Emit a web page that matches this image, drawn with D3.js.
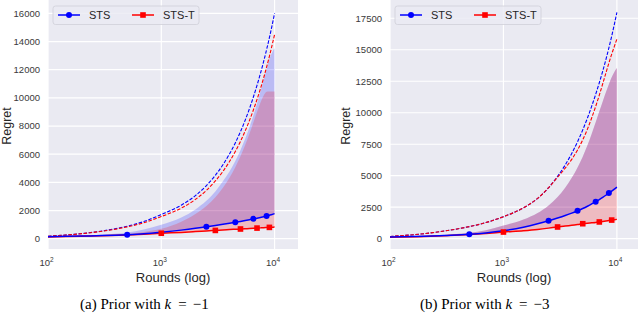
<!DOCTYPE html>
<html>
<head>
<meta charset="utf-8">
<script src="https://cdn.jsdelivr.net/npm/d3@7"></script>
<style>
    body { margin: 0; background: #ffffff; }
    svg { display: block; }
    .tick-label { font-family: "Liberation Sans", Arial, sans-serif; font-size: 9.5px; fill: #3a3a3a; }
    .axis-label { font-family: "Liberation Sans", Arial, sans-serif; font-size: 13px; fill: #262626; }
    .legend-text { font-family: "Liberation Sans", Arial, sans-serif; font-size: 11px; fill: #262626; }
    .caption { font-family: "Liberation Serif", "Times New Roman", serif; font-size: 15px; fill: #000; }
</style>
</head>
<body>
<svg width="640" height="321"></svg>
<script>
const rounds = [100, 200, 300, 500, 700, 1000, 1500, 2000, 2500, 3000, 3500, 4000,
    4500, 5000, 5500, 6000, 6500, 7000, 7500, 8000, 8500, 9000, 9500, 10000];

const xTicks = [100, 1000, 10000];
const stsMarks = [500, 2500, 4500, 6500, 8500];
const stsTMarks = [1000, 3000, 5000, 7000, 9000];

// (a) k = -1
const yTicksA = [0, 2000, 4000, 6000, 8000, 10000, 12000, 14000, 16000];
const stsMeanA = [140, 190, 220, 285, 350, 460, 610, 740, 855, 945, 1025, 1100,
    1170, 1230, 1290, 1350, 1410, 1460, 1510, 1560, 1620, 1670, 1720, 1780];
const stsTMeanA = [130, 180, 210, 270, 320, 390, 450, 505, 550, 590, 620, 650,
    672, 690, 708, 725, 740, 755, 770, 785, 795, 805, 815, 825];
const stsUpperA = [150, 210, 280, 440, 650, 990, 1510, 2080, 2690, 3350, 4080, 4780,
    5520, 6290, 7090, 7910, 8750, 9600, 10450, 11280, 12060, 12760, 13230, 13520];
const stsTUpperA = [140, 190, 235, 330, 470, 700, 1200, 1750, 2330, 2950, 3620, 4330,
    5080, 5850, 6650, 7450, 8250, 9000, 9650, 10150, 10430, 10450, 10450, 10450];
const stsBoundA = [180, 370, 550, 890, 1220, 1720, 2380, 3060, 3770, 4500, 5250, 6020,
    6800, 7600, 8410, 9230, 10060, 10890, 11730, 12570, 13420, 14270, 15130, 16000];
const stsTBoundA = [176, 360, 530, 840, 1135, 1575, 2170, 2790, 3430, 4100, 4780, 5480,
    6190, 6910, 7650, 8390, 9140, 9890, 10650, 11410, 12180, 12950, 13730, 14500];

// (b) k = -3
const yTicksB = [0, 2500, 5000, 7500, 10000, 12500, 15000, 17500];
const stsMeanB = [130, 200, 260, 350, 460, 630, 910, 1180, 1420, 1640, 1840, 2030,
    2220, 2400, 2580, 2760, 2940, 3110, 3280, 3450, 3620, 3780, 3940, 4100];
const stsTMeanB = [120, 180, 240, 340, 420, 530, 640, 740, 840, 930, 1000, 1070,
    1130, 1190, 1230, 1260, 1290, 1330, 1370, 1410, 1445, 1480, 1510, 1535];
const stsUpperB = [140, 220, 300, 470, 680, 1040, 1520, 2040, 2640, 3310, 4050, 4830,
    5650, 6510, 7410, 8330, 9240, 10110, 10900, 11620, 12270, 12820, 13240, 13550];
const stsTUpperB = [140, 220, 300, 470, 680, 1040, 1520, 2040, 2640, 3310, 4050, 4830,
    5650, 6510, 7410, 8330, 9240, 10110, 10900, 11620, 12270, 12820, 13240, 13550];
const stsBoundB = [180, 400, 610, 960, 1280, 1750, 2450, 3200, 4050, 4950, 5850, 6770,
    7700, 8640, 9580, 10520, 11460, 12380, 13300, 14220, 15150, 16080, 17020, 17960];
const stsTBoundB = [180, 400, 610, 960, 1280, 1750, 2450, 3200, 4050, 4880, 5600, 6300,
    7050, 7850, 8700, 9600, 10500, 11400, 12300, 13150, 13950, 14650, 15270, 15850];

let svg = d3.select("svg");

function drawPanel(p) {
    let x = d3.scaleLog().domain(p.xDomain).range([p.left, p.right]);
    let y = d3.scaleLinear().domain(p.yDomain).range([p.bottom, p.top]);

    let g = svg.append("g");

    g.append("rect")
        .attr("x", p.left).attr("y", p.top)
        .attr("width", p.right - p.left).attr("height", p.bottom - p.top)
        .attr("fill", "#eaeaf2");

    // grid
    g.selectAll(".hgrid").data(p.yTicks).enter().append("line")
        .attr("x1", p.left).attr("x2", p.right)
        .attr("y1", function (d) { return y(d); })
        .attr("y2", function (d) { return y(d); })
        .attr("stroke", "#ffffff").attr("stroke-width", 1.2);
    g.selectAll(".vgrid").data(xTicks).enter().append("line")
        .attr("x1", function (d) { return x(d); })
        .attr("x2", function (d) { return x(d); })
        .attr("y1", p.top).attr("y2", p.bottom)
        .attr("stroke", "#ffffff").attr("stroke-width", 1.2);

    // shaded bands
    function band(mean, upper) {
        return d3.area()
            .x(function (d, i) { return x(rounds[i]); })
            .y0(function (d, i) { return y(mean[i]); })
            .y1(function (d, i) { return y(upper[i]); })
            .curve(d3.curveMonotoneX)(rounds);
    }
    g.append("path").attr("d", band(p.stsMean, p.stsUpper))
        .attr("fill", "#0000ff").attr("fill-opacity", 0.2);
    g.append("path").attr("d", band(p.stsTMean, p.stsTUpper))
        .attr("fill", "#ff0000").attr("fill-opacity", 0.2);

    let line = function (vals) {
        return d3.line()
            .x(function (d, i) { return x(rounds[i]); })
            .y(function (d, i) { return y(vals[i]); })
            .curve(d3.curveMonotoneX)(rounds);
    };

    // dashed bounds
    g.append("path").attr("d", line(p.stsBound))
        .attr("fill", "none").attr("stroke", "#0000ff")
        .attr("stroke-width", 1.1).attr("stroke-dasharray", "3.5,1.6");
    g.append("path").attr("d", line(p.stsTBound))
        .attr("fill", "none").attr("stroke", "#ff0000")
        .attr("stroke-width", 1.1).attr("stroke-dasharray", "3.5,1.6");

    // mean lines
    g.append("path").attr("d", line(p.stsTMean))
        .attr("fill", "none").attr("stroke", "#ff0000").attr("stroke-width", 1.5);
    g.append("path").attr("d", line(p.stsMean))
        .attr("fill", "none").attr("stroke", "#0000ff").attr("stroke-width", 1.5);

    g.selectAll(".sq").data(stsTMarks).enter().append("rect")
        .attr("x", function (d) { return x(d) - 2.8; })
        .attr("y", function (d) { return y(p.stsTMean[rounds.indexOf(d)]) - 2.8; })
        .attr("width", 5.6).attr("height", 5.6)
        .attr("fill", "#ff0000");
    g.selectAll(".dot").data(stsMarks).enter().append("circle")
        .attr("cx", function (d) { return x(d); })
        .attr("cy", function (d) { return y(p.stsMean[rounds.indexOf(d)]); })
        .attr("r", 3)
        .attr("fill", "#0000ff");

    // tick labels
    g.selectAll(".ytl").data(p.yTicks).enter().append("text")
        .attr("class", "tick-label")
        .attr("x", p.left - 8)
        .attr("y", function (d) { return y(d) + 3.4; })
        .attr("text-anchor", "end")
        .text(function (d) { return d; });

    let xl = g.selectAll(".xtl").data(xTicks).enter().append("text")
        .attr("class", "tick-label")
        .attr("x", function (d) { return x(d) - 1.5; })
        .attr("y", p.bottom + 17)
        .attr("text-anchor", "middle");
    xl.append("tspan").text("10");
    xl.append("tspan")
        .attr("dy", -4.5)
        .attr("font-size", "6.5px")
        .text(function (d) { return Math.round(Math.log10(d)); });

    g.append("text").attr("class", "axis-label")
        .attr("x", (p.left + p.right) / 2).attr("y", p.bottom + 32.5)
        .attr("text-anchor", "middle")
        .text("Rounds (log)");
    g.append("text").attr("class", "axis-label")
        .attr("transform", "translate(" + p.regretX + "," + 126 + ") rotate(-90)")
        .attr("text-anchor", "middle")
        .style("font-size", "12.5px")
        .text("Regret");

    // legend
    let lx = p.left + 5, ly = p.top + 6;
    g.append("rect")
        .attr("x", lx).attr("y", ly).attr("width", 146).attr("height", 18.5)
        .attr("rx", 2.5)
        .attr("fill", "#eaeaf2").attr("fill-opacity", 0.8)
        .attr("stroke", "#cfcfd8").attr("stroke-width", 0.8);
    let ey = ly + 9;
    g.append("line").attr("x1", lx + 5).attr("x2", lx + 27).attr("y1", ey).attr("y2", ey)
        .attr("stroke", "#0000ff").attr("stroke-width", 1.5);
    g.append("circle").attr("cx", lx + 16).attr("cy", ey).attr("r", 3).attr("fill", "#0000ff");
    g.append("text").attr("class", "legend-text").attr("x", lx + 36).attr("y", ey + 4).text("STS");
    g.append("line").attr("x1", lx + 79).attr("x2", lx + 101).attr("y1", ey).attr("y2", ey)
        .attr("stroke", "#ff0000").attr("stroke-width", 1.5);
    g.append("rect").attr("x", lx + 87.2).attr("y", ey - 2.8).attr("width", 5.6).attr("height", 5.6)
        .attr("fill", "#ff0000");
    g.append("text").attr("class", "legend-text").attr("x", lx + 110).attr("y", ey + 4).text("STS-T");

    // caption, with math spacing around "="
    let cap = g.append("text").attr("class", "caption")
        .attr("x", p.captionX).attr("y", 308.5);
    cap.append("tspan").text(p.captionHead + " Prior with ");
    cap.append("tspan").attr("font-style", "italic").text("k");
    cap.append("tspan").attr("dx", 7).text("=");
    cap.append("tspan").attr("dx", 6).text("\u2212" + p.k);
}

drawPanel({
    left: 48, right: 298, top: 0, bottom: 249,
    xDomain: [100, 16100], yDomain: [-730, 16950],
    yTicks: yTicksA, regretX: 11, captionX: 80, captionHead: "(a)", k: 1,
    stsMean: stsMeanA, stsTMean: stsTMeanA, stsUpper: stsUpperA, stsTUpper: stsTUpperA,
    stsBound: stsBoundA, stsTBound: stsTBoundA
});

drawPanel({
    left: 390, right: 638, top: 0, bottom: 249,
    xDomain: [100, 15350], yDomain: [-817, 18950],
    yTicks: yTicksB, regretX: 350, captionX: 420, captionHead: "(b)", k: 3,
    stsMean: stsMeanB, stsTMean: stsTMeanB, stsUpper: stsUpperB, stsTUpper: stsTUpperB,
    stsBound: stsBoundB, stsTBound: stsTBoundB
});
</script>
</body>
</html>
